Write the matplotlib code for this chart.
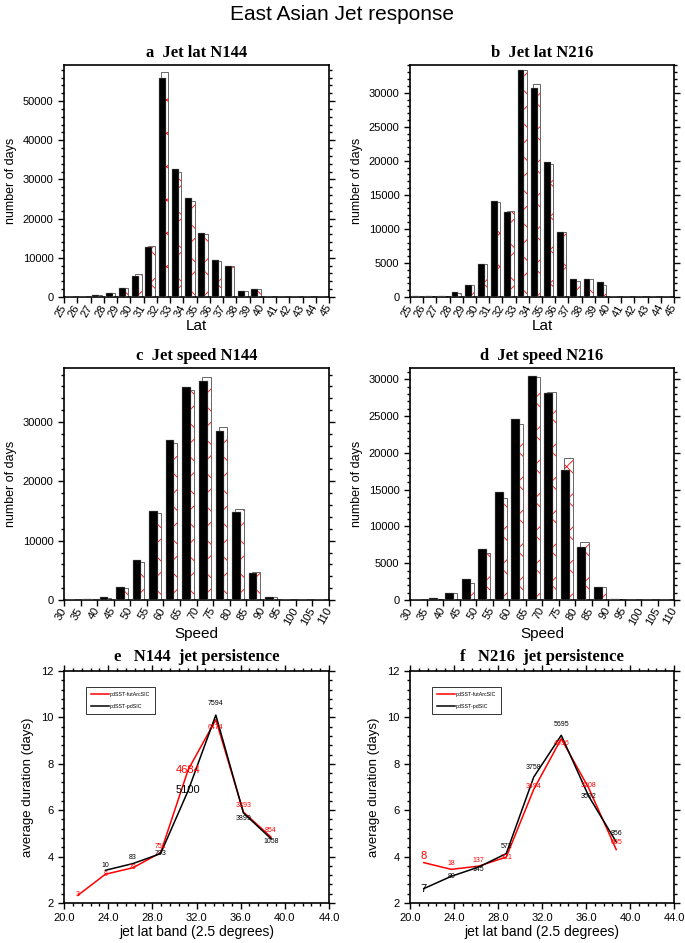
import matplotlib
matplotlib.use("Agg")
import matplotlib.pyplot as plt
import numpy as np
from matplotlib.ticker import MultipleLocator, FormatStrFormatter

plt.rcParams['font.family'] = ['Liberation Sans', 'DejaVu Sans']
plt.rcParams['hatch.linewidth'] = 0.6

# jet latitude histograms, 1 degree bins 25..44
lat_bins = np.arange(25, 45)
a_pd = [0, 0, 500, 900, 2200, 5400, 12800, 56000, 32650, 25200, 16300, 9350, 8000, 1600, 1950, 0, 0, 0, 0, 0]
a_fut = [0, 0, 600, 1000, 2300, 5800, 13000, 57300, 31800, 24500, 16000, 9100, 7900, 1500, 2000, 0, 0, 0, 0, 0]
b_pd = [100, 200, 200, 700, 1800, 4900, 14100, 12500, 33400, 30700, 19800, 9500, 2700, 2700, 2200, 0, 0, 0, 0, 0]
b_fut = [50, 150, 150, 600, 1700, 4800, 14000, 12700, 33300, 31300, 19600, 9600, 2400, 2600, 1800, 0, 0, 0, 0, 0]

# jet speed histograms, 5 m/s bins 30..105
spd_bins = np.arange(30, 110, 5)
c_pd = [0, 100, 560, 2250, 6740, 15060, 26970, 35960, 36970, 28480, 14890, 4550, 560, 0, 0, 0]
c_fut = [0, 50, 300, 1970, 6400, 14720, 26400, 35390, 37640, 29210, 15280, 4660, 560, 0, 0, 0]
d_pd = [0, 250, 950, 2900, 6980, 14640, 24570, 30460, 28150, 17680, 7210, 1720, 100, 0, 0, 0]
d_fut = [0, 200, 1000, 2310, 6440, 13830, 23890, 30370, 28330, 19270, 7930, 1770, 100, 0, 0, 0]

# jet persistence per 2.5 degree lat band
bands = [21.25, 23.75, 26.25, 28.75, 31.25, 33.75, 36.25, 38.75]
e_pd = [np.nan, 3.41, 3.70, 4.13, 6.85, 10.1, 5.88, 4.77]
e_fut = [2.33, 3.24, 3.52, 4.17, 7.75, 9.9, 5.92, 4.84]
e_pd_n = ["", "10", "83", "793", "5100", "7594", "3899", "1058"]
e_fut_n = ["3", "8", "79", "751", "4684", "6474", "3393", "854"]
f_pd = [2.62, 3.15, 3.55, 4.13, 7.43, 9.23, 6.6, 4.63]
f_fut = [3.74, 3.45, 3.59, 3.98, 6.9, 9.08, 6.95, 4.3]
f_pd_n = ["7", "80", "145", "572", "3758", "5695", "3592", "856"]
f_fut_n = ["8", "18", "137", "321", "3494", "4936", "3208", "695"]

W, H = 685, 943
fig = plt.figure(figsize=(W / 100, H / 100), dpi=100)


def box(l, t, r, b):
    return fig.add_axes([l / W, 1 - b / H, (r - l) / W, (b - t) / H])


def frame(ax):
    for s in ax.spines.values():
        s.set_linewidth(1.2)
    ax.tick_params(which='both', direction='out', width=1, labelsize=8)
    ax.tick_params(which='major', length=4)
    ax.tick_params(which='minor', length=2)


def hist_panel(ax, bins, step, pd, fut, ymax, ymaj, ymin, xlab, title):
    xf = bins + 0.33 * step
    xp = bins + 0.15 * step
    ax.bar(xf, fut, width=0.52 * step, align='edge', color='white',
           edgecolor='red', hatch='x', linewidth=0, zorder=1)
    ax.bar(xf, fut, width=0.52 * step, align='edge', fill=False,
           edgecolor='0.4', linewidth=0.7, zorder=2)
    ax.bar(xp, pd, width=0.52 * step, align='edge', color='black',
           edgecolor='0.6', linewidth=0.3, zorder=3)
    ax.set_xlim(bins[0], bins[-1] + step)
    ax.set_ylim(0, ymax)
    ticks = np.arange(bins[0], bins[-1] + step + 1, step)
    ax.set_xticks(ticks)
    ax.set_xticklabels([str(t) for t in ticks], rotation=60, ha='right',
                       va='center', rotation_mode='anchor')
    ax.yaxis.set_major_locator(MultipleLocator(ymaj))
    ax.yaxis.set_minor_locator(MultipleLocator(ymin))
    frame(ax)
    ax.tick_params(axis='y', which='both', left=True, right=True)
    ax.tick_params(axis='x', top=False, pad=2)
    ax.set_xlabel(xlab, fontsize=11, labelpad=0)
    ax.set_ylabel("number of days", fontsize=9, labelpad=4)
    ax.set_title(title, fontsize=12, fontweight='bold',
                 family='Liberation Serif', pad=6)


def persist_panel(ax, pd, fut, pd_n, fut_n, big, pd_dy, fut_dy, title):
    ax.plot(bands, fut, color='red', lw=1.1, label='pdSST-futArcSIC')
    ax.plot(bands, pd, color='black', lw=1.1, label='pdSST-pdSIC')
    for i, x in enumerate(bands):
        fs = 8 if i == big else 5
        if pd_n[i]:
            ax.annotate(pd_n[i], (x, pd[i]), xytext=(0, pd_dy[i]),
                        textcoords='offset pixels', ha='center', va='center',
                        fontsize=fs, color='black')
        ax.annotate(fut_n[i], (x, fut[i]), xytext=(0, fut_dy[i]),
                    textcoords='offset pixels', ha='center', va='center',
                    fontsize=fs, color='red')
    ax.set_xlim(20, 44)
    ax.set_ylim(2, 12)
    ax.xaxis.set_major_locator(MultipleLocator(4))
    ax.xaxis.set_minor_locator(MultipleLocator(0.8))
    ax.xaxis.set_major_formatter(FormatStrFormatter('%.1f'))
    ax.yaxis.set_major_locator(MultipleLocator(2))
    ax.yaxis.set_minor_locator(MultipleLocator(0.4))
    frame(ax)
    ax.tick_params(which='both', top=True, right=True)
    ax.set_xlabel("jet lat band (2.5 degrees)", fontsize=10, labelpad=1)
    ax.set_ylabel("average duration (days)", fontsize=9.5, labelpad=5)
    ax.set_title(title, fontsize=12, fontweight='bold',
                 family='Liberation Serif', pad=7)
    leg = ax.legend(loc='upper left', bbox_to_anchor=(0.083, 0.931),
                    borderaxespad=0, fontsize=3.8, frameon=True,
                    fancybox=False, edgecolor='black', handlelength=3.4,
                    handletextpad=0.2, labelspacing=1.4, borderpad=0.9)
    leg.get_frame().set_linewidth(0.7)


fig.text(0.5, 1 - 14 / H, "East Asian Jet response", ha='center',
         va='center', fontsize=15)

ax = box(64, 65, 329, 297)
hist_panel(ax, lat_bins, 1, a_pd, a_fut, 59200, 10000, 2000, "Lat", "a  Jet lat N144")
ax = box(410, 65, 674, 297)
hist_panel(ax, lat_bins, 1, b_pd, b_fut, 34070, 5000, 1000, "Lat", "b  Jet lat N216")
ax = box(64, 368, 329, 600)
hist_panel(ax, spd_bins, 5, c_pd, c_fut, 39100, 10000, 2000, "Speed", "c  Jet speed N144")
ax = box(410, 368, 674, 600)
hist_panel(ax, spd_bins, 5, d_pd, d_fut, 31540, 5000, 1000, "Speed", "d  Jet speed N216")

ax = box(64, 671, 329, 903)
persist_panel(ax, e_pd, e_fut, e_pd_n, e_fut_n, 4,
              [0, 5, 6, 0, 0, 12, -6, -3], [1, 0, 0, 6, 0, -8, 7, 7],
              "e   N144  jet persistence")
ax = box(410, 671, 674, 903)
persist_panel(ax, f_pd, f_fut, f_pd_n, f_fut_n, 0,
              [0, 0, -2, 7, 10, 11, 0, 8], [7, 6, 6, 0, 3, -5, 3, 7],
              "f   N216  jet persistence")

fig.savefig("out.png", dpi=100)
